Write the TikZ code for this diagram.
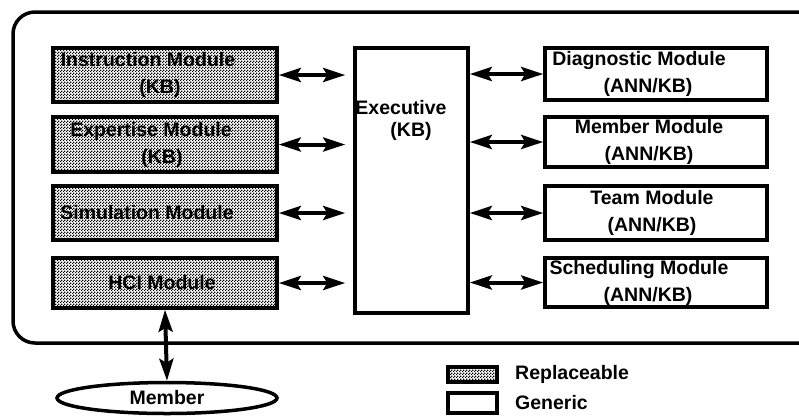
\documentclass[tikz,border=0pt]{standalone}
\usepackage{fontspec}
\setmainfont{Liberation Sans}
\usetikzlibrary{arrows.meta,shapes.geometric,patterns}

% fine checkerboard stipple for the replaceable modules
\pgfdeclarepatternformonly{stipple}{\pgfqpoint{0pt}{0pt}}{\pgfqpoint{3pt}{3pt}}{\pgfqpoint{3pt}{3pt}}{%
  \pgfpathrectangle{\pgfqpoint{0pt}{0pt}}{\pgfqpoint{1.5pt}{1.5pt}}%
  \pgfpathrectangle{\pgfqpoint{1.5pt}{1.5pt}}{\pgfqpoint{1.5pt}{1.5pt}}%
  \pgfusepath{fill}}

% pad a line on its right so that it sits a little left of centre
\newcommand\padr[2]{#2\hspace*{#1pt}}

\tikzset{
  lbl/.style={font=\fontsize{19.5}{27}\selectfont\bfseries},
  modbox/.style={draw, line width=3.5pt, inner sep=0pt, align=center, lbl},
  replbox/.style={modbox, pattern=stipple, pattern color=black},
  genbox/.style={modbox, fill=white},
  link/.style={line width=4pt, {Stealth[length=22pt,width=14pt,inset=4pt]}-{Stealth[length=22pt,width=14pt,inset=4pt]}},
}

\begin{document}
\begin{tikzpicture}[x=1pt, y=-1pt]
\useasboundingbox (0,0) rectangle (799,416);

% system boundary
\draw[line width=3.5pt, rounded corners=22pt] (13,12) rectangle (830,343);

% replaceable modules
\node[replbox, minimum width=224pt, minimum height=54pt] (instr) at (165,75)
  {\padr{34}{Instruction Module}\\\padr{10}{(KB)}};
\node[replbox, minimum width=224pt, minimum height=55pt] (exper) at (165,144.5)
  {\padr{28}{Expertise Module}\\\padr{6}{(KB)}};
\node[replbox, minimum width=224pt, minimum height=54pt] (simul) at (165,213)
  {\padr{36}{Simulation Module}};
\node[replbox, minimum width=224pt, minimum height=50pt] (hci) at (165,283)
  {\padr{6}{HCI Module}};

% executive
\node[genbox, minimum width=113pt, minimum height=265pt] (exec) at (411.5,180.5) {};
\node[lbl, align=center, inner sep=0pt] (exectext) at (401,120)
  {Executive\\[-5pt]\hspace*{20pt}(KB)};

% generic modules
\node[genbox, minimum width=222pt, minimum height=52pt] (diag) at (656,74)
  {\padr{34}{Diagnostic Module}\\\padr{16}{(ANN/KB)}};
\node[genbox, minimum width=222pt, minimum height=50pt] (memb) at (656,142)
  {\padr{14}{Member Module}\\\padr{14}{(ANN/KB)}};
\node[genbox, minimum width=222pt, minimum height=54pt] (team) at (656,213)
  {\padr{8}{Team Module}\\\padr{8}{(ANN/KB)}};
\node[genbox, minimum width=222pt, minimum height=49pt] (sched) at (656,282.5)
  {\padr{34}{Scheduling Module}\\\padr{16}{(ANN/KB)}};

% the member outside the system
\node[draw, ellipse, line width=3.5pt, inner sep=0pt, minimum width=220pt, minimum height=31pt, lbl]
  (member) at (167,398) {Member};

% connections
\foreach \m in {instr,exper,simul,hci}
  \draw[link, shorten >=8pt] (\m.east) -- (\m.east -| exec.west);
\foreach \m in {diag,memb,team,sched}
  \draw[link] (\m.west -| exec.east) -- (\m.west);
\draw[link] (hci.south) -- (member.north);

% legend
\node[draw, line width=3.5pt, pattern=stipple, pattern color=black, minimum width=49pt, minimum height=15pt, inner sep=0pt]
  (keyrepl) at (472.5,374.5) {};
\node[draw, line width=3.5pt, fill=white, minimum width=49pt, minimum height=20pt, inner sep=0pt]
  (keygen) at (472.5,403) {};
\node[lbl, anchor=west, inner sep=0pt] (keyrepltext) at (515,374) {Replaceable};
\node[lbl, anchor=west, inner sep=0pt] (keygentext) at (515,403) {Generic};
\end{tikzpicture}
\end{document}
